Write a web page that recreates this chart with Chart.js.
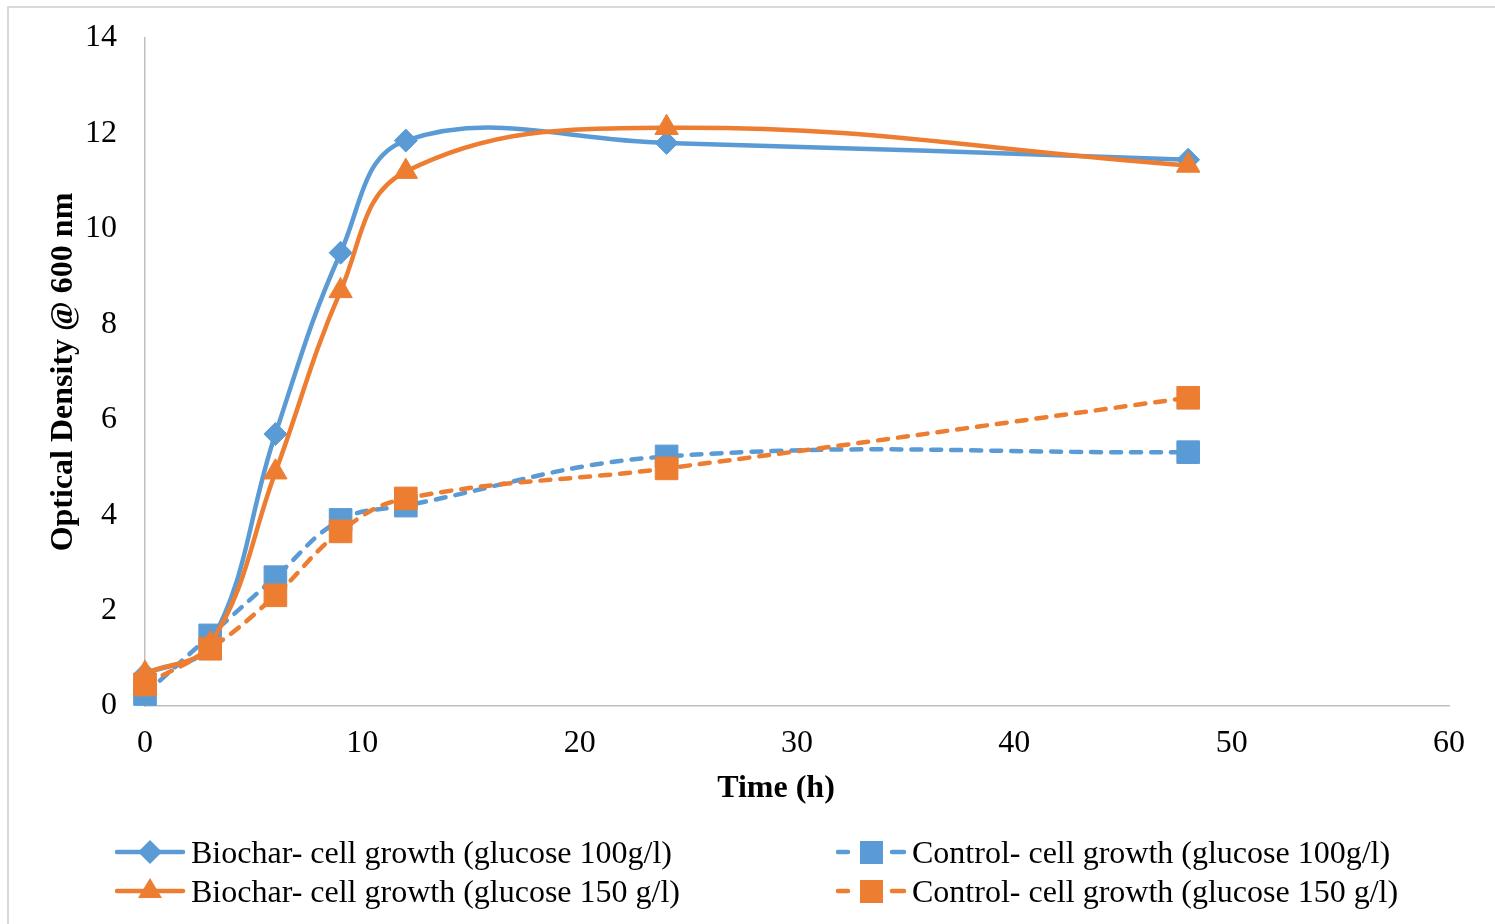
<!DOCTYPE html>
<html>
<head>
<meta charset="utf-8">
<script src="https://cdn.jsdelivr.net/npm/chart.js@4.4.1/dist/chart.umd.min.js"></script>
<style>
  html, body { margin: 0; padding: 0; background: #fff; }
  #wrap { position: relative; width: 1495px; height: 924px; overflow: hidden; }
  #frame { position: absolute; left: 7px; top: 6px; width: 1600px; height: 1000px;
           border-left: 2px solid #d9d9d9; border-top: 2px solid #d9d9d9; box-sizing: border-box; }
  canvas { position: absolute; left: 0; top: 0; }
  .leg { position: absolute; font-family: "Liberation Serif", "Times New Roman", serif;
         font-size: 32px; color: #000; white-space: nowrap; line-height: 32px; }
  .leg svg { position: absolute; left: 0; top: 0; }
  .leg span { position: absolute; top: 0; }
</style>
</head>
<body>
<div id="wrap">
  <div id="frame"></div>
  <canvas id="grafico" width="1495" height="924"></canvas>
  <div id="legenda"></div>
</div>
<script>
// tempo (h)
var tempos = [0, 3, 6, 9, 12, 24, 48];

// densidade optica @ 600 nm
var biochar100 = [0.67, 1.3, 5.7, 9.5, 11.85, 11.8, 11.45];
var biochar150 = [0.68, 1.3, 4.9, 8.7, 11.2, 12.12, 11.33];
var controle100 = [0.25, 1.48, 2.7, 3.9, 4.2, 5.23, 5.32];
var controle150 = [0.45, 1.2, 2.32, 3.66, 4.35, 4.98, 6.46];

var rotulos = [
  'Biochar- cell growth (glucose 100g/l)',
  'Biochar- cell growth (glucose 150 g/l)',
  'Control- cell growth (glucose 100g/l)',
  'Control- cell growth (glucose 150 g/l)'
];

var ticksX = [0, 10, 20, 30, 40, 50, 60];
var ticksY = [0, 2, 4, 6, 8, 10, 12, 14];

var azul = '#5B9BD5';
var laranja = '#ED7D31';

function pontos (valores) {
  return tempos.map(function (t, i) { return { x: t, y: valores[i] }; });
}

function serie (label, valores, cor, estilo, raio, tracejado, ordem) {
  return {
    label: label,
    data: pontos(valores),
    borderColor: cor,
    backgroundColor: cor,
    pointBackgroundColor: cor,
    pointBorderColor: cor,
    pointBorderWidth: 1,
    pointStyle: estilo,
    pointRadius: raio,
    pointHoverRadius: raio,
    borderWidth: 4.5,
    borderDash: tracejado ? [10, 10] : [],
    borderCapStyle: 'round',
    tension: 0.4,
    clip: false,
    order: ordem
  };
}

var fonte = { family: '"Liberation Serif", "Times New Roman", serif', size: 32 };
var fonteB = { family: '"Liberation Serif", "Times New Roman", serif', size: 32, weight: 'bold' };

// titulo do eixo x, um pouco deslocado para a esquerda como no original
var tituloX = {
  id: 'tituloX',
  afterDraw: function (chart) {
    var c = chart.ctx;
    var a = chart.chartArea;
    c.save();
    c.font = 'bold 32px "Liberation Serif", "Times New Roman", serif';
    c.fillStyle = '#000';
    c.textAlign = 'center';
    c.textBaseline = 'middle';
    c.fillText('Time (h)', (a.left + a.right) / 2 - 21, a.bottom + 83);
    c.restore();
  }
};

var ctx = document.getElementById('grafico').getContext('2d');
var grafico = new Chart(ctx, {
  type: 'line',
  data: {
    datasets: [
      serie(rotulos[0], biochar100, azul, 'rectRot', 11.5, false, 4),
      serie(rotulos[1], biochar150, laranja, 'triangle', 13.5, false, 2),
      serie(rotulos[2], controle100, azul, 'rect', 16, true, 3),
      serie(rotulos[3], controle150, laranja, 'rect', 16, true, 1)
    ]
  },
  plugins: [tituloX],
  options: {
    responsive: false,
    animation: false,
    layout: { padding: { top: 38, right: 46, bottom: 112, left: 0 } },
    plugins: { legend: { display: false }, tooltip: { enabled: false } },
    scales: {
      x: {
        type: 'linear',
        min: 0, max: 60,
        afterBuildTicks: function (s) { s.ticks = ticksX.map(function (v) { return { value: v }; }); },
        afterFit: function (s) { s.height = 106; },
        grid: { display: false, drawTicks: false },
        border: { display: true, color: '#bfbfbf', width: 1.5 },
        ticks: { color: '#000', font: fonte, padding: 18, maxRotation: 0 },
        title: { display: false }
      },
      y: {
        min: 0, max: 14,
        afterBuildTicks: function (s) { s.ticks = ticksY.map(function (v) { return { value: v }; }); },
        afterFit: function (s) { s.width = 145; s.paddingTop = 0; s.paddingBottom = 0; },
        grid: { display: false, drawTicks: false },
        border: { display: true, color: '#bfbfbf', width: 1.5 },
        ticks: { color: '#000', font: fonte, padding: 28 },
        title: { display: true, text: 'Optical Density @ 600 nm', color: '#000', font: fonteB, padding: { top: 45, bottom: 0 } }
      }
    }
  }
});

// legenda em duas colunas
var itens = [
  { x: 115, y: 836, cor: azul, forma: 'diamante', traco: false, texto: rotulos[0] },
  { x: 115, y: 875, cor: laranja, forma: 'triangulo', traco: false, texto: rotulos[1] },
  { x: 836, y: 836, cor: azul, forma: 'quadrado', traco: true, texto: rotulos[2] },
  { x: 836, y: 875, cor: laranja, forma: 'quadrado', traco: true, texto: rotulos[3] }
];

function icone (item) {
  var linha = item.traco
    ? '<line x1="2" y1="16" x2="12" y2="16" stroke="' + item.cor + '" stroke-width="4.5" stroke-linecap="round"/>' +
      '<line x1="56" y1="16" x2="68" y2="16" stroke="' + item.cor + '" stroke-width="4.5" stroke-linecap="round"/>'
    : '<line x1="2" y1="16" x2="68" y2="16" stroke="' + item.cor + '" stroke-width="4.5" stroke-linecap="round"/>';
  var marca;
  if (item.forma === 'diamante') marca = '<polygon points="35,4 47,16 35,28 23,16" fill="' + item.cor + '"/>';
  else if (item.forma === 'triangulo') marca = '<polygon points="35,3 47,23 23,23" fill="' + item.cor + '"/>';
  else marca = '<rect x="24" y="5" width="23" height="23" fill="' + item.cor + '"/>';
  return '<svg width="72" height="32">' + linha + marca + '</svg>';
}

var leg = document.getElementById('legenda');
itens.forEach(function (item) {
  var d = document.createElement('div');
  d.className = 'leg';
  d.style.left = item.x + 'px';
  d.style.top = item.y + 'px';
  d.innerHTML = icone(item) + '<span style="left:76px">' + item.texto + '</span>';
  leg.appendChild(d);
});
</script>
</body>
</html>
